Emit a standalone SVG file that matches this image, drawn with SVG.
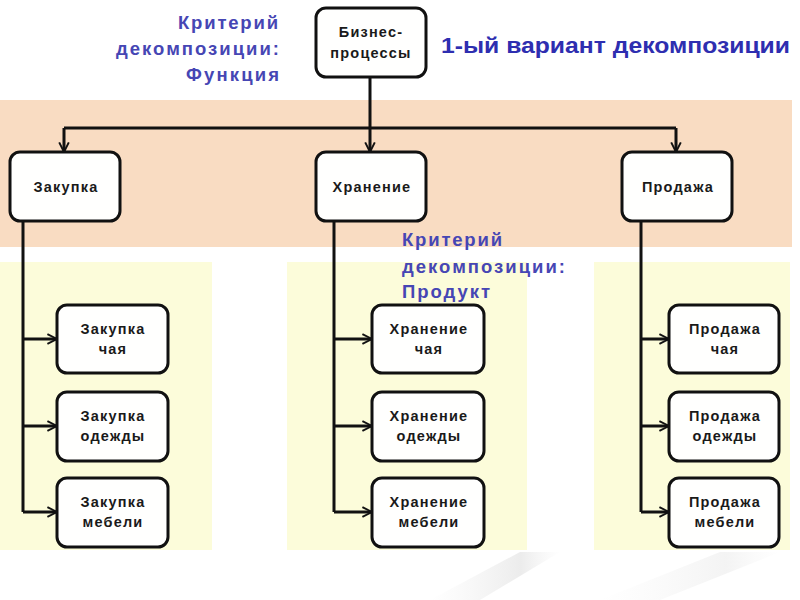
<svg xmlns="http://www.w3.org/2000/svg" width="800" height="600" viewBox="0 0 800 600">
<defs>
<style>
.node rect{fill:#fffffe;stroke:#111;stroke-width:3}
.node text{font-family:"Liberation Sans",Arial,sans-serif;font-weight:bold;font-size:14.5px;letter-spacing:1.2px;fill:#1a1a1a;text-anchor:middle}
.lbl{font-family:"Liberation Sans",Arial,sans-serif;font-weight:bold;font-size:18.5px;fill:#4646b4}
.title{font-family:"Liberation Sans",Arial,sans-serif;font-weight:bold;font-size:22px;fill:#2e2eb0}
.conn{fill:none;stroke:#111;stroke-width:3}
</style>
<marker id="arr" viewBox="0 0 10 10" refX="9" refY="5" markerWidth="4" markerHeight="4" orient="auto" markerUnits="strokeWidth">
<path d="M1,1 L9,5 L1,9" fill="none" stroke="#111" stroke-width="1.6"/>
</marker>
<linearGradient id="sh" x1="0" y1="0" x2="1" y2="0">
<stop offset="0" stop-color="#ececec" stop-opacity="0"/>
<stop offset="0.7" stop-color="#e4e4e4" stop-opacity="0.7"/>
<stop offset="1" stop-color="#ececec" stop-opacity="0"/>
</linearGradient>
</defs>
<rect width="800" height="600" fill="#ffffff"/>
<rect x="0" y="100" width="792" height="147" fill="#f9dcc2"/>
<rect x="0" y="262" width="212" height="288" fill="#fcfcda"/>
<rect x="287" y="262" width="240" height="288" fill="#fcfcda"/>
<rect x="594" y="262" width="196" height="288" fill="#fcfcda"/>
<polygon points="430,600 520,552 560,552 480,600" fill="url(#sh)"/>
<polygon points="600,600 720,552 780,552 660,600" fill="url(#sh)" opacity="0.6"/>

<text class="lbl" x="178" y="29" textLength="100" lengthAdjust="spacing">Критерий</text>
<text class="lbl" x="116" y="55" textLength="163" lengthAdjust="spacing">декомпозиции:</text>
<text class="lbl" x="186" y="81" textLength="93" lengthAdjust="spacing">Функция</text>
<text class="title" x="441" y="53" textLength="349" lengthAdjust="spacingAndGlyphs">1-ый вариант декомпозиции</text>
<text class="lbl" x="402" y="246" textLength="100" lengthAdjust="spacing">Критерий</text>
<text class="lbl" x="402" y="273" textLength="163" lengthAdjust="spacing">декомпозиции:</text>
<text class="lbl" x="402" y="298" textLength="88" lengthAdjust="spacing">Продукт</text>

<g id="connectors">
<path class="conn" d="M370,77 V128"/>
<path class="conn" d="M64,128 H676"/>
<path class="conn" d="M64,128 V152" marker-end="url(#arr)"/>
<path class="conn" d="M370,128 V152" marker-end="url(#arr)"/>
<path class="conn" d="M676,128 V152" marker-end="url(#arr)"/>
<path class="conn" d="M23,221 V512"/>
<path class="conn" d="M23,339 H57" marker-end="url(#arr)"/>
<path class="conn" d="M23,426 H57" marker-end="url(#arr)"/>
<path class="conn" d="M23,512 H57" marker-end="url(#arr)"/>
<path class="conn" d="M334,221 V512"/>
<path class="conn" d="M334,339 H372" marker-end="url(#arr)"/>
<path class="conn" d="M334,426 H372" marker-end="url(#arr)"/>
<path class="conn" d="M334,512 H372" marker-end="url(#arr)"/>
<path class="conn" d="M641,221 V512"/>
<path class="conn" d="M641,339 H669" marker-end="url(#arr)"/>
<path class="conn" d="M641,426 H669" marker-end="url(#arr)"/>
<path class="conn" d="M641,512 H669" marker-end="url(#arr)"/>
</g>

<g id="n-biz" class="node"><rect x="316" y="8" width="110" height="69" rx="10"/><text x="371" y="37">Бизнес-</text><text x="371" y="58">процессы</text></g>
<g id="n-zak" class="node"><rect x="10" y="152" width="110" height="69" rx="10"/><text x="66" y="192">Закупка</text></g>
<g id="n-hran" class="node"><rect x="316" y="152" width="110" height="69" rx="10"/><text x="372" y="192">Хранение</text></g>
<g id="n-prod" class="node"><rect x="622" y="152" width="110" height="69" rx="10"/><text x="678" y="192">Продажа</text></g>

<g id="n-zak-tea" class="node"><rect x="57" y="305" width="111" height="68" rx="10"/><text x="113" y="334">Закупка</text><text x="113" y="354">чая</text></g>
<g id="n-zak-cl" class="node"><rect x="57" y="392" width="111" height="69" rx="10"/><text x="113" y="421">Закупка</text><text x="113" y="441">одежды</text></g>
<g id="n-zak-fu" class="node"><rect x="57" y="478" width="111" height="69" rx="10"/><text x="113" y="507">Закупка</text><text x="113" y="527">мебели</text></g>

<g id="n-hran-tea" class="node"><rect x="372" y="305" width="112" height="68" rx="10"/><text x="429" y="334">Хранение</text><text x="429" y="354">чая</text></g>
<g id="n-hran-cl" class="node"><rect x="372" y="392" width="112" height="69" rx="10"/><text x="429" y="421">Хранение</text><text x="429" y="441">одежды</text></g>
<g id="n-hran-fu" class="node"><rect x="372" y="478" width="112" height="69" rx="10"/><text x="429" y="507">Хранение</text><text x="429" y="527">мебели</text></g>

<g id="n-prod-tea" class="node"><rect x="669" y="305" width="110" height="68" rx="10"/><text x="725" y="334">Продажа</text><text x="725" y="354">чая</text></g>
<g id="n-prod-cl" class="node"><rect x="669" y="392" width="110" height="69" rx="10"/><text x="725" y="421">Продажа</text><text x="725" y="441">одежды</text></g>
<g id="n-prod-fu" class="node"><rect x="669" y="478" width="110" height="69" rx="10"/><text x="725" y="507">Продажа</text><text x="725" y="527">мебели</text></g>
</svg>
